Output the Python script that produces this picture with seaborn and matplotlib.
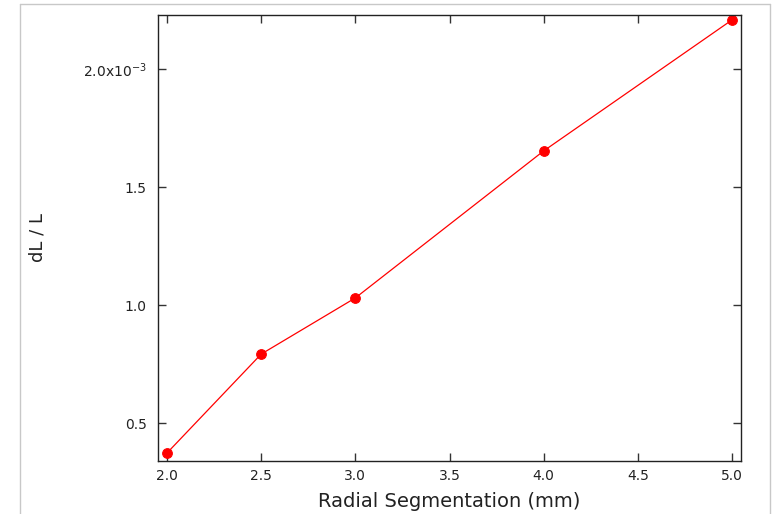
import matplotlib
matplotlib.use("Agg")
import matplotlib.pyplot as plt
import seaborn as sns
import pandas as pd
from matplotlib.lines import Line2D

radial_mm = [2.0, 2.5, 3.0, 4.0, 5.0]
dl_over_l = [0.373, 0.792, 1.030, 1.653, 2.208]  # x 1e-3
x_ticks = [2.0, 2.5, 3.0, 3.5, 4.0, 4.5, 5.0]
x_tick_labels = ["2.0", "2.5", "3.0", "3.5", "4.0", "4.5", "5.0"]
y_ticks = [0.5, 1.0, 1.5, 2.0]
y_tick_labels = ["0.5", "1.0", "1.5", "2.0x10$^{-3}$"]

df = pd.DataFrame({"x": radial_mm, "y": dl_over_l})

sns.set_style("white")
plt.rcParams["font.family"] = ["DejaVu Sans"]

W, H = 777, 514
fig = plt.figure(figsize=(W / 100, H / 100), dpi=100)
ax = fig.add_axes([158 / W, 1 - 461 / H, (741 - 158) / W, (461 - 15) / H])

sns.lineplot(data=df, x="x", y="y", ax=ax, color="#ff0000", linewidth=0.9,
             marker="o", markersize=7, markeredgecolor="#ff0000")

ax.set_xlim(1.952, 5.048)
ax.set_ylim(0.339, 2.229)
ax.set_xticks(x_ticks)
ax.set_xticklabels(x_tick_labels)
ax.set_yticks(y_ticks)
ax.set_yticklabels(y_tick_labels)

ax.tick_params(axis="both", direction="in", length=6, width=1, color="#333333",
               labelsize=10, top=True, right=True, left=True, bottom=True,
               labelcolor="#222222")
ax.tick_params(axis="y", pad=8)
ax.tick_params(axis="x", pad=6)
for s in ax.spines.values():
    s.set_color("#222222")
    s.set_linewidth(1)
    s.set_visible(True)

ax.set_xlabel("Radial Segmentation (mm)", fontsize=14, color="#222222", labelpad=6)
ax.set_ylabel("dL / L", fontsize=13, color="#222222")
ax.yaxis.set_label_coords((46 - 158) / 583, 0.5)

# light gray frame around the figure
gray = "#c8c8c8"
fig.add_artist(Line2D([20 / W, 20 / W], [0, 1 - 4 / H], transform=fig.transFigure, color=gray, lw=1))
fig.add_artist(Line2D([770 / W, 770 / W], [0, 1 - 4 / H], transform=fig.transFigure, color=gray, lw=1))
fig.add_artist(Line2D([20 / W, 770 / W], [1 - 4 / H, 1 - 4 / H], transform=fig.transFigure, color=gray, lw=1))

fig.savefig("out.png", dpi=100)
